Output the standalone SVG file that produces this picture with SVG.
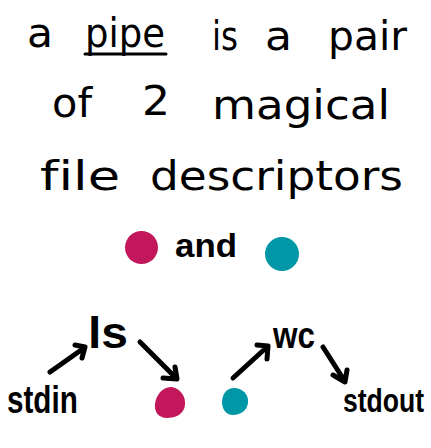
<svg xmlns="http://www.w3.org/2000/svg" width="431" height="448" viewBox="0 0 431 448">
<style>
.t{font-family:"DejaVu Sans","Liberation Sans",sans-serif;font-size:40px;fill:#000;font-variant-ligatures:none}
.b{font-family:"Liberation Sans",Arial,sans-serif;font-weight:bold;fill:#000}
.arr{fill:none;stroke:#000;stroke-width:5;stroke-linecap:round;stroke-linejoin:round}
.pink{fill:#c2185b}
.teal{fill:#0097a7}
</style>
<rect width="431" height="448" fill="#fff"/>
<g id="title">
<text class="t" x="27" y="47" textLength="26" lengthAdjust="spacingAndGlyphs">a</text>
<text class="t" x="85" y="47" textLength="80" lengthAdjust="spacingAndGlyphs">pipe</text>
<line x1="85" y1="54" x2="166" y2="54" stroke="#000" stroke-width="3" stroke-linecap="round"/>
<text class="t" x="212" y="50" textLength="26" lengthAdjust="spacingAndGlyphs">is</text>
<text class="t" x="265" y="50" textLength="27" lengthAdjust="spacingAndGlyphs">a</text>
<text class="t" x="328" y="50" textLength="79" lengthAdjust="spacingAndGlyphs">pair</text>
<text class="t" x="52" y="117" textLength="40" lengthAdjust="spacingAndGlyphs">of</text>
<text class="t" x="142" y="115" textLength="28" lengthAdjust="spacingAndGlyphs">2</text>
<text class="t" x="212" y="119" textLength="178" lengthAdjust="spacingAndGlyphs">magical</text>
<text class="t" x="40" y="190" textLength="80" lengthAdjust="spacingAndGlyphs">file</text>
<text class="t" x="150" y="190" textLength="253" lengthAdjust="spacingAndGlyphs">descriptors</text>
</g>
<g id="legend">
<circle class="pink" cx="141.5" cy="247.5" r="16.5"/>
<text class="b" x="175" y="257" font-size="34" textLength="62" lengthAdjust="spacingAndGlyphs">and</text>
<circle class="teal" cx="282" cy="254" r="17"/>
</g>
<g id="n-stdin"><text class="b" font-size="38" transform="translate(7 413) scale(0.78 1)">stdin</text></g>
<g id="n-ls"><text class="b" x="88" y="348" font-size="44" textLength="40" lengthAdjust="spacingAndGlyphs">ls</text></g>
<g id="n-pink"><path class="pink" d="M172 387 C181 389 186 397 185 405 C184 414 176 418 167 418 C158 418 154 411 155 404 C156 395 163 386 172 387 Z"/></g>
<g id="n-teal"><path class="teal" d="M234 388 C243 388 249 395 248 403 C247 411 240 415 233 415 C226 415 222 409 222 402 C222 394 227 388 234 388 Z"/></g>
<g id="n-wc"><text class="b" x="273" y="348" font-size="36" textLength="42" lengthAdjust="spacingAndGlyphs">wc</text></g>
<g id="n-stdout"><text class="b" font-size="34" transform="translate(343 412) scale(0.78 1)">stdout</text></g>
<g id="connectors">
<path class="arr" d="M50 372 L84 348 M75 345 L85 347 L82 358"/>
<path class="arr" d="M140 342 L176 378 M163 378 L177 379 L175 367"/>
<path class="arr" d="M233 378 L267 347 M257 345 L268 346 L267 359"/>
<path class="arr" d="M323 347 L344 380 M333 375 L345 382 L347 370"/>
</g>
</svg>
